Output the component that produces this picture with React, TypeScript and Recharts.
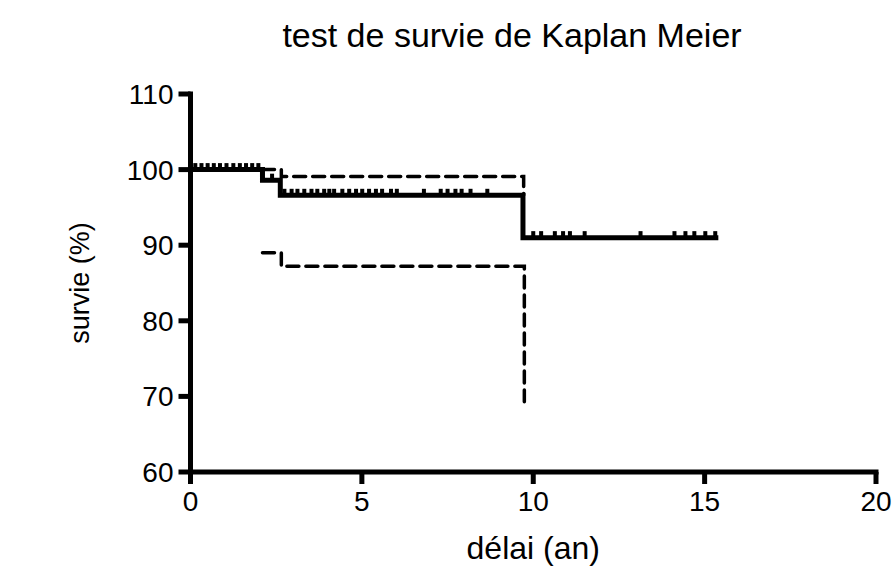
import React from "react";
import {
  ComposedChart,
  Line,
  Scatter,
  XAxis,
  YAxis,
  Label,
} from "recharts";

// Kaplan-Meier survival estimate (step function), time in years, survival in %
const survivalCurve = [
  { t: 0, s: 100 },
  { t: 2.1, s: 98.6 },
  { t: 2.62, s: 96.6 },
  { t: 9.7, s: 91 },
  { t: 15.4, s: 91 },
];

// 95% confidence band bounds
const upperBound = [
  { t: 2.1, u: 100 },
  { t: 2.65, u: 99.1 },
  { t: 9.72, u: 96.6 },
];

const lowerBound = [
  { t: 2.1, l: 89 },
  { t: 2.65, l: 87.2 },
  { t: 9.74, l: 69.3 },
];

// Censored observations, grouped by the survival level they sit on
const censoredAt100 = [0.14, 0.32, 0.5, 0.68, 0.86, 1.05, 1.25, 1.44, 1.62, 1.8, 1.98];
const censoredAt98 = [2.38];
const censoredAt96 = [
  2.74, 2.95, 3.12, 3.32, 3.53, 3.7, 3.9, 4.05, 4.19, 4.43, 4.63, 4.83, 5.01,
  5.21, 5.41, 5.59, 5.85, 6.02, 6.81, 7.3, 7.5, 7.73, 7.91, 8.17, 8.66,
];
const censoredAt91 = [
  10.0, 10.23, 10.63, 10.87, 11.07, 11.5, 13.13, 14.12, 14.44, 14.7, 15.02, 15.31,
];

const xTicks = [0, 5, 10, 15, 20];
const yTicks = [60, 70, 80, 90, 100, 110];

const titleText = "test de survie de Kaplan Meier";
const xLabelText = "délai (an)";
const yLabelText = "survie (%)";

const FONT = "'Liberation Sans', Arial, Helvetica, sans-serif";

const censoredPoints = [
  ...censoredAt100.map((t) => ({ t, s: 100 })),
  ...censoredAt98.map((t) => ({ t, s: 98.6 })),
  ...censoredAt96.map((t) => ({ t, s: 96.6 })),
  ...censoredAt91.map((t) => ({ t, s: 91 })),
];

// small raised tick sitting on top of the survival line
const CensorMark = (props: any) => {
  const { cx, cy } = props;
  if (cx == null || cy == null) return null;
  return <rect x={cx - 2} y={cy - 6.5} width={4} height={5} fill="#000" />;
};

export default function App() {
  return (
    <div style={{ position: "relative", width: 892, height: 569 }}>
      <style>{"html,body{margin:0;padding:0;overflow:hidden;}"}</style>
      <div
        style={{
          position: "absolute",
          left: 512,
          top: 18,
          transform: "translateX(-50%)",
          whiteSpace: "nowrap",
          fontFamily: FONT,
          fontSize: 34,
          lineHeight: "34px",
          color: "#000",
        }}
      >
        {titleText}
      </div>
      <ComposedChart
        width={892}
        height={569}
        margin={{ top: 94, right: 16, bottom: 47, left: 110.5 }}
      >
        <XAxis
          type="number"
          dataKey="t"
          domain={[0, 20]}
          ticks={xTicks}
          interval={0}
          height={50}
          axisLine={{ stroke: "#000", strokeWidth: 5, strokeLinecap: "square" }}
          tickLine={{ stroke: "#000", strokeWidth: 5 }}
          tickSize={12}
          tickMargin={7}
          tick={{ fill: "#000", fontSize: 28, fontFamily: FONT }}
        >
          <Label
            content={(p: any) => {
              const vb = p.viewBox;
              return (
                <text
                  x={vb.x + vb.width / 2}
                  y={559}
                  textAnchor="middle"
                  fontSize={32}
                  fontFamily={FONT}
                  fill="#000"
                >
                  {xLabelText}
                </text>
              );
            }}
          />
        </XAxis>
        <YAxis
          type="number"
          domain={[60, 110]}
          ticks={yTicks}
          interval={0}
          width={80}
          axisLine={{ stroke: "#000", strokeWidth: 5, strokeLinecap: "square" }}
          tickLine={{ stroke: "#000", strokeWidth: 5 }}
          tickSize={12}
          tickMargin={5}
          tick={{ fill: "#000", fontSize: 28, fontFamily: FONT }}
        >
          <Label
            content={(p: any) => {
              const vb = p.viewBox;
              const cy = vb.y + vb.height / 2;
              return (
                <text
                  x={80}
                  y={cy}
                  transform={`rotate(-90, 80, ${cy})`}
                  textAnchor="middle"
                  dominantBaseline="central"
                  fontSize={27}
                  fontFamily={FONT}
                  fill="#000"
                >
                  {yLabelText}
                </text>
              );
            }}
          />
        </YAxis>
        <Line
          data={upperBound}
          dataKey="u"
          type="stepAfter"
          stroke="#000"
          strokeWidth={3.5}
          strokeDasharray="12 7"
          strokeLinecap="round"
          dot={false}
          isAnimationActive={false}
        />
        <Line
          data={lowerBound}
          dataKey="l"
          type="stepAfter"
          stroke="#000"
          strokeWidth={3.5}
          strokeDasharray="12 7"
          strokeLinecap="round"
          dot={false}
          isAnimationActive={false}
        />
        <Line
          data={survivalCurve}
          dataKey="s"
          type="stepAfter"
          stroke="#000"
          strokeWidth={5}
          dot={false}
          isAnimationActive={false}
        />
        <Scatter
          data={censoredPoints}
          dataKey="s"
          shape={CensorMark}
          isAnimationActive={false}
        />
      </ComposedChart>
    </div>
  );
}
